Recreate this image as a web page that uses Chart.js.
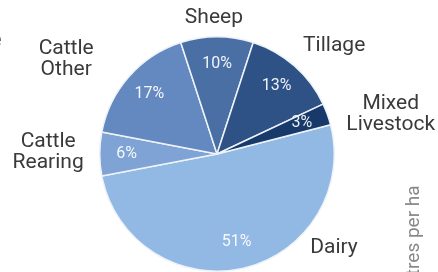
<!DOCTYPE html>
<html>
<head>
<meta charset="utf-8">
<script src="https://cdn.jsdelivr.net/npm/chart.js@4.4.1/dist/chart.umd.min.js"></script>
<style>
    html, body { margin: 0; padding: 0; background: #fff; overflow: hidden; }
    #wrap { position: relative; width: 438px; height: 272px; overflow: hidden; }
    #side { position: absolute; left: 401px; top: 290px; transform-origin: 0 0; transform: rotate(-90deg);
            font: 19px Roboto, sans-serif; color: #888; white-space: nowrap; }
    #edge { position: absolute; left: -9px; top: 27px; font: 20px Roboto, sans-serif; color: #555; }
</style>
</head>
<body>
<div id="wrap">
    <canvas id="pie" width="438" height="272"></canvas>
    <div id="edge">e</div>
    <div id="side">Litres per ha</div>
</div>
<script>
// sectors, clockwise starting from Dairy
const labels = ['Dairy', 'Cattle\nRearing', 'Cattle\nOther', 'Sheep', 'Tillage', 'Mixed\nLivestock'];
const shares = [51, 6, 17, 10, 13, 3];
const colors = ['#92b8e4', '#7ea3d4', '#6389c0', '#4a6fa5', '#2e5286', '#173a6b'];

// where the outside names sit: [angle in degrees, distance as multiple of radius]
const nameSpots = [[38.8, 1.28], [180.5, 1.44], [212.2, 1.52], [-91.3, 1.16], [-42.7, 1.36], [-12.9, 1.52]];

const pieLabels = {
    id: 'pieLabels',
    afterDatasetsDraw(chart) {
        const ctx = chart.ctx;
        const meta = chart.getDatasetMeta(0);
        const total = shares.reduce((a, b) => a + b, 0);
        ctx.save();
        meta.data.forEach((arc, i) => {
            const p = arc.getProps(['x', 'y', 'startAngle', 'endAngle', 'outerRadius'], true);
            const mid = (p.startAngle + p.endAngle) / 2;
            const r = p.outerRadius * 0.77;
            ctx.font = '16px Roboto, sans-serif';
            ctx.fillStyle = 'rgba(255,255,255,0.92)';
            ctx.textAlign = 'center';
            ctx.textBaseline = 'middle';
            ctx.fillText(Math.round(shares[i] / total * 100) + '%', p.x + Math.cos(mid) * r, p.y + Math.sin(mid) * r);

            const spot = nameSpots[i];
            const a = spot[0] * Math.PI / 180;
            const cx = p.x + Math.cos(a) * p.outerRadius * spot[1];
            const cy = p.y + Math.sin(a) * p.outerRadius * spot[1];
            const lines = labels[i].split('\n');
            ctx.font = '21px Roboto, sans-serif';
            ctx.fillStyle = '#3a3a3a';
            lines.forEach((line, k) => {
                ctx.fillText(line, cx, cy + (k - (lines.length - 1) / 2) * 21);
            });
        });
        ctx.restore();
    }
};

new Chart(document.getElementById('pie').getContext('2d'), {
    type: 'pie',
    data: {
        labels: labels,
        datasets: [{
            data: shares,
            backgroundColor: colors,
            borderColor: '#eef3f9',
            borderWidth: 1.5
        }]
    },
    options: {
        responsive: false,
        animation: false,
        devicePixelRatio: 1,
        rotation: 75.6,
        layout: { padding: { top: 36, bottom: 0, left: 99, right: 103 } },
        plugins: {
            legend: { display: false },
            tooltip: { enabled: false }
        }
    },
    plugins: [pieLabels]
});
</script>
</body>
</html>
